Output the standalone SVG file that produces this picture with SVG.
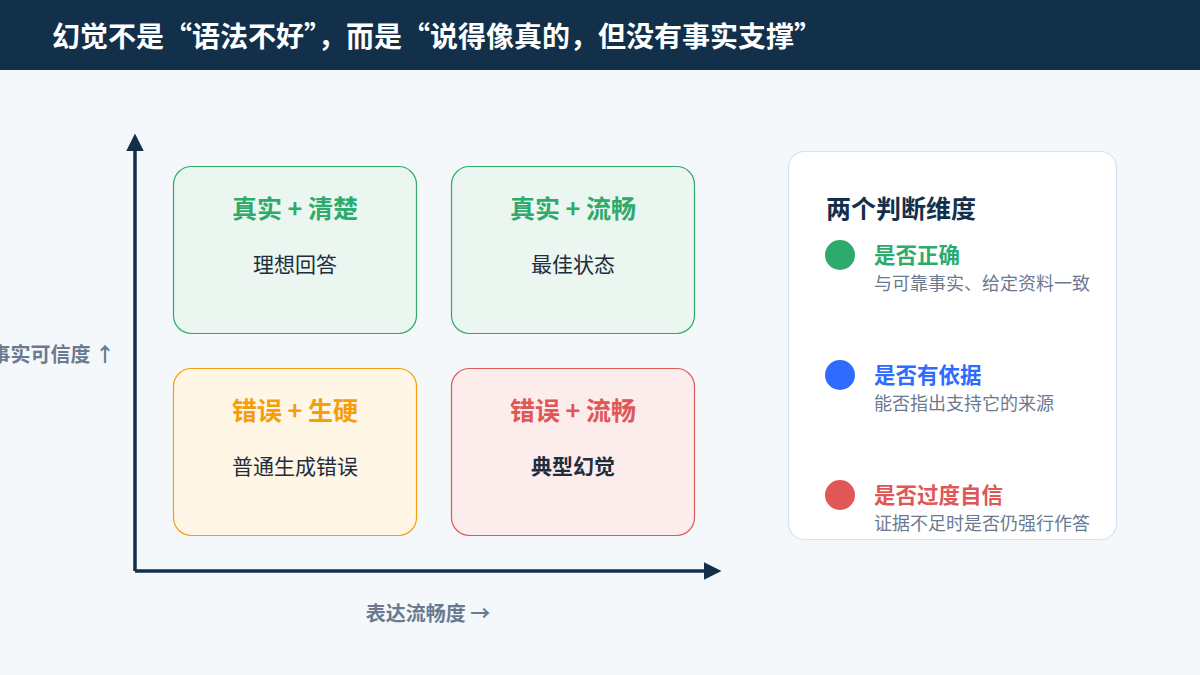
<svg xmlns="http://www.w3.org/2000/svg" width="1200" height="675" viewBox="0 0 1200 675">
<style>
text{font-family:"Noto Sans CJK SC","Noto Sans",sans-serif}
.t{font-size:25px;font-weight:700;text-anchor:middle}
.s{font-size:21px;fill:#1f2d3d;text-anchor:middle}
.h{font-size:21.5px;font-weight:700}
.d{font-size:18px;fill:#6b7a90}
.ax{fill:#6b7a90;font-size:20px;font-weight:700}
</style>
<defs><marker id="ar" viewBox="0 0 10 10" refX="8" refY="5" markerWidth="5" markerHeight="5" orient="auto"><path d="M0 0L10 5L0 10z" fill="#13304b"/></marker></defs>
<rect width="1200" height="675" fill="#f5f8fb"/>
<rect width="1200" height="70" fill="#13304b"/>
<text x="52" y="47" fill="#fff" font-size="28" font-weight="700">幻觉不是“语法不好”，而是“说得像真的，但没有事实支撑”</text>
<g id="connectors" stroke="#13304b" stroke-width="3.5" fill="none">
<path d="M135 571V137" marker-end="url(#ar)"/>
<path d="M135 571H718" marker-end="url(#ar)"/>
</g>
<text class="ax" x="115" y="362" text-anchor="end">事实可信度 ↑</text>
<text class="ax" x="428" y="621" text-anchor="middle">表达流畅度 →</text>
<g id="q1"><rect x="173.5" y="166.5" width="243" height="167" rx="18" fill="#eaf6ef" stroke="#2eaa6c" stroke-width="1.2"/><text class="t" x="295" y="218" fill="#2eaa6c">真实 + 清楚</text><text class="s" x="295" y="272">理想回答</text></g>
<g id="q2"><rect x="451.5" y="166.5" width="243" height="167" rx="18" fill="#eaf6ef" stroke="#2eaa6c" stroke-width="1.2"/><text class="t" x="573" y="218" fill="#2eaa6c">真实 + 流畅</text><text class="s" x="573" y="272">最佳状态</text></g>
<g id="q3"><rect x="173.5" y="368.5" width="243" height="167" rx="18" fill="#fff6e6" stroke="#f59e0b" stroke-width="1.2"/><text class="t" x="295" y="420" fill="#f59e0b">错误 + 生硬</text><text class="s" x="295" y="474">普通生成错误</text></g>
<g id="q4"><rect x="451.5" y="368.5" width="243" height="167" rx="18" fill="#fcecec" stroke="#e05757" stroke-width="1.2"/><text class="t" x="573" y="420" fill="#e05757">错误 + 流畅</text><text class="s" x="573" y="474" font-weight="700">典型幻觉</text></g>
<g id="panel">
<rect x="788.5" y="151.5" width="328" height="388" rx="16" fill="#fff" stroke="#d8e1ea" stroke-width="1.2"/>
<text x="826" y="218" fill="#13304b" font-size="25" font-weight="700">两个判断维度</text>
<circle cx="840" cy="255" r="15" fill="#2eaa6c"/>
<text class="h" x="874" y="263" fill="#2eaa6c">是否正确</text>
<text class="d" x="874" y="290">与可靠事实、给定资料一致</text>
<circle cx="840" cy="375" r="15" fill="#2f6bff"/>
<text class="h" x="874" y="383" fill="#2f6bff">是否有依据</text>
<text class="d" x="874" y="410">能否指出支持它的来源</text>
<circle cx="840" cy="495" r="15" fill="#e05757"/>
<text class="h" x="874" y="503" fill="#e05757">是否过度自信</text>
<text class="d" x="874" y="530">证据不足时是否仍强行作答</text>
</g>
</svg>
